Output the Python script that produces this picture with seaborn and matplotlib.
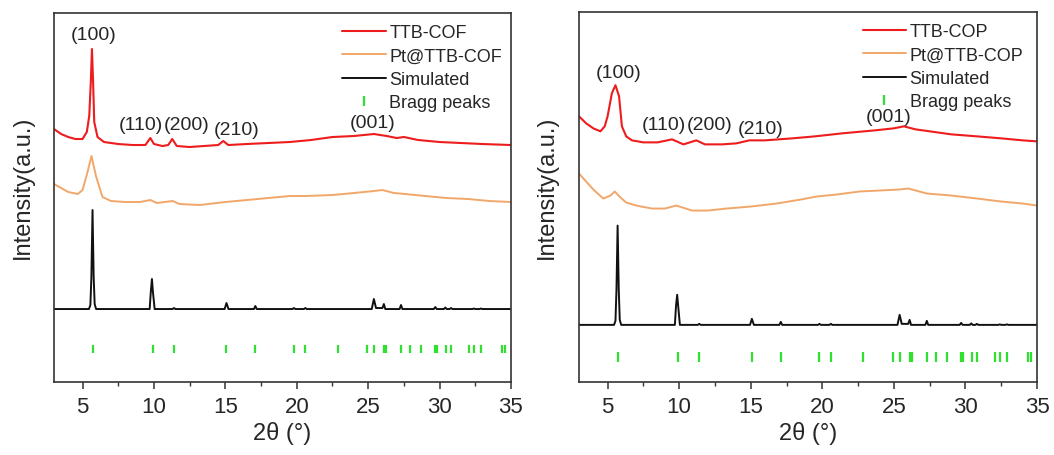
import pandas as pd
import seaborn as sns
import matplotlib.pyplot as plt
from matplotlib.ticker import MultipleLocator

sns.set_theme(style="ticks")
plt.rcParams["font.family"] = ["Liberation Sans", "DejaVu Sans"]

RED = "#ee1c1c"
ORANGE = "#f2a76a"
BLACK = "#111111"
GREEN = "#2fe02f"

# ---- left panel: TTB-COF ----
cof_x = [3.0, 3.5, 4.0, 4.5, 5.0, 5.3, 5.47, 5.58, 5.66, 5.74, 5.82, 6.05, 6.5, 7.5,
         8.5, 9.4, 9.75, 10.0, 10.6, 11.0, 11.28, 11.6, 12.5, 13.5, 14.5, 14.86, 15.2,
         16.5, 18.0, 19.5, 21.0, 22.5, 24.0, 25.4, 26.3, 27.0, 27.5, 28.5, 30.0, 31.5,
         33.0, 35.0]
cof_y = [253, 248, 245, 243, 243, 250, 266, 300, 333, 300, 260, 245, 240, 238,
         237, 237, 244, 238, 236, 237, 243, 236, 235, 236, 237, 241, 237,
         238, 239, 240, 242, 245, 246, 248, 246, 244, 245, 242, 240, 239,
         238, 237]

pt_cof_x = [3.0, 3.5, 4.0, 4.67, 5.0, 5.35, 5.63, 5.94, 6.4, 7.0, 8.0, 9.0, 9.75, 10.2,
            11.3, 11.8, 13.2, 15.0, 16.5, 18.0, 19.5, 20.6, 22.5, 24.0, 25.4, 26.0,
            26.8, 27.6, 29.0, 30.5, 32.0, 33.5, 35.0]
pt_cof_y = [198, 194, 190, 188, 192, 210, 226, 206, 185, 181, 180, 180, 182, 179,
            181, 178, 177, 180, 182, 184, 186, 186, 187, 189, 191, 192,
            189, 188, 186, 184, 183, 181, 180]

sim_x = [3.0, 5.45, 5.55, 5.62, 5.7, 5.78, 5.85, 5.95, 9.7, 9.78, 9.86, 9.93, 10.05,
         11.3, 11.4, 11.5, 14.95, 15.08, 15.22, 17.0, 17.1, 17.2, 19.7, 19.8, 19.9,
         20.5, 20.6, 20.7, 25.25, 25.4, 25.55, 26.0, 26.1, 26.2, 27.2, 27.3, 27.4,
         29.6, 29.7, 29.8, 30.3, 30.4, 30.5, 30.7, 30.8, 30.9, 32.3, 32.4, 32.5,
         32.8, 32.9, 33.0, 35.0]
sim_cof_y = [73, 73, 77, 105, 172, 105, 78, 73, 73, 90, 103, 90, 73,
             73, 74, 73, 73, 79, 73, 73, 76, 73, 73, 74, 73,
             73, 74, 73, 73, 83, 74, 74, 78, 73, 73, 77, 73,
             73, 75, 73, 73, 74.5, 73, 73, 74, 73, 73, 73.5, 73,
             73, 73.5, 73, 73]

# ---- right panel: TTB-COP ----
cop_x = [3.0, 3.5, 4.0, 4.5, 4.8, 5.0, 5.3, 5.55, 5.8, 6.0, 6.3, 6.7, 7.5, 8.5, 9.5,
         10.3, 11.2, 11.8, 13.0, 14.0, 14.9, 16.0, 17.9, 19.5, 21.4, 23.7, 25.0, 25.7,
         26.5, 27.5, 29.0, 30.8, 32.5, 34.0, 35.0]
cop_y = [265, 258, 253, 250, 255, 265, 288, 296, 285, 255, 245, 241, 239, 239, 242,
         237, 241, 237, 237, 238, 241, 241, 243, 245, 248, 251, 253, 255,
         252, 250, 247, 245, 243, 241, 240]

pt_cop_x = [3.0, 3.5, 4.0, 4.7, 5.2, 5.5, 5.9, 6.3, 7.0, 8.1, 9.0, 9.8, 10.9, 12.0,
            13.3, 15.0, 16.8, 18.5, 19.6, 21.0, 22.6, 24.0, 25.4, 26.0, 27.3, 29.0,
            30.8, 32.5, 34.0, 35.0]
pt_cop_y = [208, 200, 192, 183, 186, 190, 184, 179, 176, 173, 173, 176, 171, 171,
            173, 175, 178, 182, 185, 187, 190, 191, 192, 193, 188, 186,
            183, 180, 178, 176]

sim_cop_y = [57, 57, 61, 92, 156, 92, 62, 57, 57, 76, 87, 76, 57,
             57, 58, 57, 57, 63, 57, 57, 60, 57, 57, 58, 57,
             57, 58, 57, 57, 67, 58, 58, 62, 57, 57, 61, 57,
             57, 59, 57, 57, 58.5, 57, 57, 58, 57, 57, 57.5, 57,
             57, 57.5, 57, 57]

bragg = [5.70, 9.90, 11.40, 15.08, 17.11, 19.79, 20.59, 22.87, 24.95, 25.41,
         26.11, 26.27, 27.33, 27.93, 28.70, 29.68, 29.80, 30.43, 30.82, 32.06,
         32.43, 32.92, 34.39, 34.58]
bragg_cof = (29, 37)
bragg_cop = (20, 30)

hkl = ["(100)", "(110)", "(200)", "(210)", "(001)"]
hkl_cof_x = [5.75, 9.08, 12.3, 15.76, 25.3]
hkl_cof_y = [348, 258, 258, 253, 260]
hkl_cop_x = [5.77, 8.9, 12.1, 15.7, 24.6]
hkl_cop_y = [309, 257, 257, 253, 265]


def draw_panel(ax, name, exp_x, exp_y, pt_x, pt_y, sim_y, bragg_y, lab_x, lab_y,
               legend_right):
    sns.lineplot(x=exp_x, y=exp_y, color=RED, lw=1.5, label=name, ax=ax)
    sns.lineplot(x=pt_x, y=pt_y, color=ORANGE, lw=1.4, label="Pt@" + name, ax=ax)
    sns.lineplot(x=sim_x, y=sim_y, color=BLACK, lw=1.4, label="Simulated", ax=ax)
    ax.vlines(bragg, bragg_y[0], bragg_y[1], color=GREEN, lw=1.6)
    ax.plot([], [], ls="none", marker="|", ms=7, mew=1.6, color=GREEN, label="Bragg peaks")

    for t, x, y in zip(hkl, lab_x, lab_y):
        ax.text(x, y, t, ha="center", va="center", fontsize=14)

    ax.set_xlim(3, 35)
    ax.set_ylim(0, 369)
    ax.xaxis.set_major_locator(MultipleLocator(5))
    ax.xaxis.set_minor_locator(MultipleLocator(2.5))
    ax.set_yticks([])
    ax.tick_params(axis="x", which="major", length=5, width=1.1, labelsize=16,
                   pad=5, color="#333333")
    ax.tick_params(axis="x", which="minor", length=3, width=1.0, color="#333333")
    for sp in ax.spines.values():
        sp.set_visible(True)
        sp.set_color("#333333")
        sp.set_linewidth(1.2)
    ax.set_xlabel("2θ (°)", fontsize=17, labelpad=3)
    ax.set_ylabel("Intensity(a.u.)", fontsize=17)
    ax.yaxis.set_label_coords(-0.045, 0.53)
    ax.legend(loc="upper right", bbox_to_anchor=(legend_right, 0.995), frameon=False,
              fontsize=13, handlelength=2.4, handletextpad=0.2, labelspacing=0.36,
              borderaxespad=0.2, borderpad=0.3)


fig = plt.figure(figsize=(10.54, 4.56), dpi=100)
ax1 = fig.add_axes([0.0512, 0.160, 0.4336, 0.8093])
ax2 = fig.add_axes([0.5493, 0.160, 0.4346, 0.8115])

draw_panel(ax1, "TTB-COF", cof_x, cof_y, pt_cof_x, pt_cof_y, sim_cof_y, bragg_cof,
           hkl_cof_x, hkl_cof_y, 1.0)
draw_panel(ax2, "TTB-COP", cop_x, cop_y, pt_cop_x, pt_cop_y, sim_cop_y, bragg_cop,
           hkl_cop_x, hkl_cop_y, 0.99)

fig.savefig("out.png", dpi=100)
plt.close(fig)
